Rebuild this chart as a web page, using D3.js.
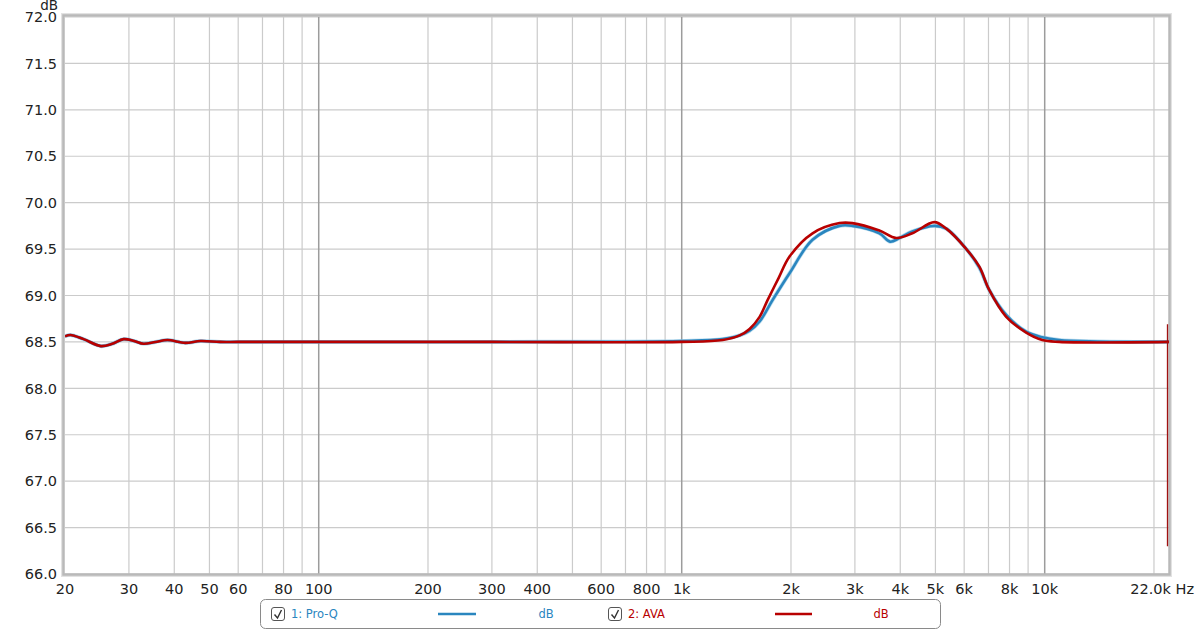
<!DOCTYPE html>
<html><head><meta charset="utf-8">
<script src="https://cdn.jsdelivr.net/npm/d3@7"></script>
<style>
html,body{margin:0;padding:0;background:#fff;}
svg{display:block;font-family:"DejaVu Sans",sans-serif;}
</style></head>
<body><svg id="c" width="1200" height="630"></svg>
<script>
// ---- data ----
const proqFreq = [20,20.7,22.5,25.1,27,29,31,32.9,35.5,38.3,42.9,47.2,53.5,60,100,300,1000,1297,1444,1538,1639,1779,1982,2293,2721,2953,3505,3750,3982,4320,4966,5357,6083,6607,7033,7834,8892,9843,10960,14000,22000];
const proqDb   = [68.56,68.575,68.53,68.455,68.48,68.53,68.51,68.48,68.50,68.52,68.49,68.51,68.50,68.50,68.50,68.50,68.51,68.53,68.57,68.62,68.72,68.95,69.24,69.60,69.75,69.75,69.67,69.58,69.62,69.69,69.75,69.72,69.50,69.30,69.06,68.79,68.61,68.55,68.52,68.505,68.50];
const avaFreq  = [20,20.7,22.5,25.1,27,29,31,32.9,35.5,38.3,42.9,47.2,53.5,60,100,300,1000,1297,1444,1538,1639,1724,1850,1982,2293,2721,2953,3505,3900,4320,4966,5357,6083,6607,7033,7834,8892,9843,10960,22000];
const avaDb    = [68.56,68.575,68.53,68.455,68.48,68.53,68.51,68.48,68.50,68.52,68.49,68.51,68.50,68.50,68.50,68.50,68.50,68.52,68.57,68.64,68.77,68.95,69.19,69.42,69.67,69.78,69.78,69.70,69.62,69.67,69.79,69.72,69.50,69.31,69.06,68.77,68.60,68.52,68.50,68.50];
const avaEndFreq = [22000,22000,22000];
const avaEndDb   = [68.50,68.69,66.30];
const xTickVals   = [20,30,40,50,60,80,100,200,300,400,600,800,1000,2000,3000,4000,5000,6000,8000,10000];
const xTickLabels = ["20","30","40","50","60","80","100","200","300","400","600","800","1k","2k","3k","4k","5k","6k","8k","10k"];
const xGrid = [30,40,50,60,70,80,90,200,300,400,500,600,700,800,900,2000,3000,4000,5000,6000,7000,8000,9000,20000];
const xDecades = [100,1000,10000];
const yTicks = [66.0,66.5,67.0,67.5,68.0,68.5,69.0,69.5,70.0,70.5,71.0,71.5,72.0];
const legendItems = [{name:"1: Pro-Q",unit:"dB",color:"#2a86bf"},{name:"2: AVA",unit:"dB",color:"#b80000"}];

// ---- layout ----
const svg = d3.select("#c");
const L=65, R=1169, T=17, B=574;
const x = d3.scaleLog().domain([20,22000]).range([L,R]);
const y = d3.scaleLinear().domain([66,72]).range([B,T]);

// grid
const g = svg.append("g");
g.selectAll(".hg").data(yTicks).join("line")
  .attr("x1",L).attr("x2",R).attr("y1",d=>y(d)).attr("y2",d=>y(d))
  .attr("stroke","#cbcbcb").attr("stroke-width",1.2);
g.selectAll(".vg").data(xGrid).join("line")
  .attr("x1",d=>x(d)).attr("x2",d=>x(d)).attr("y1",T).attr("y2",B)
  .attr("stroke","#cbcbcb").attr("stroke-width",1.2);
g.selectAll(".vd").data(xDecades).join("line")
  .attr("x1",d=>x(d)).attr("x2",d=>x(d)).attr("y1",T).attr("y2",B)
  .attr("stroke","#9c9c9c").attr("stroke-width",1.5);

// frame
svg.append("rect").attr("x",L-3).attr("y",T-3).attr("width",R-L+5).attr("height",B-T+5)
  .attr("fill","none").attr("stroke","#e2e2e2").attr("stroke-width",2);
svg.append("rect").attr("x",L-1.5).attr("y",T-1.5).attr("width",R-L+2).attr("height",B-T+2)
  .attr("fill","none").attr("stroke","#b9b9b9").attr("stroke-width",2.5);

// clip
svg.append("clipPath").attr("id","clip").append("rect")
  .attr("x",L).attr("y",T-2).attr("width",R-L+1).attr("height",B-T+4);

const line = d3.line().x(d=>x(d[0])).y(d=>y(d[1])).curve(d3.curveCatmullRom.alpha(0.5));
const lines = svg.append("g").attr("clip-path","url(#clip)");
const proq = proqFreq.map((f,i)=>[f,proqDb[i]]);
const ava = avaFreq.map((f,i)=>[f,avaDb[i]]);
lines.append("path").attr("d",line(proq)).attr("fill","none")
  .attr("stroke","#8cc4e4").attr("stroke-width",4).attr("stroke-opacity",0.6);
lines.append("path").attr("d",line(proq)).attr("fill","none")
  .attr("stroke",legendItems[0].color).attr("stroke-width",2.6);
lines.append("path").attr("d",line(ava)).attr("fill","none")
  .attr("stroke",legendItems[1].color).attr("stroke-width",2.6);
const endLine = d3.line().x(d=>x(d[0])-1.5).y(d=>y(d[1]));
svg.append("path").attr("d",endLine(avaEndFreq.map((f,i)=>[f,avaEndDb[i]])))
  .attr("fill","none").attr("stroke","#a01010").attr("stroke-width",1.3);

// y labels
svg.selectAll(".yl").data(yTicks).join("text")
  .attr("x",57).attr("y",d=>y(d)).attr("dy","0.36em").attr("text-anchor","end")
  .attr("font-size","14.5px").attr("fill","#222").text(d=>d.toFixed(1));
svg.append("text").attr("x",58).attr("y",10).attr("text-anchor","end")
  .attr("font-size","13.5px").attr("fill","#222").text("dB");

// x labels
svg.selectAll(".xl").data(xTickVals).join("text")
  .attr("x",d=>x(d)).attr("y",589).attr("dy","0.36em").attr("text-anchor","middle")
  .attr("font-size","14.5px").attr("fill","#222").text((d,i)=>xTickLabels[i]);
svg.append("text").attr("x",1194).attr("y",589).attr("dy","0.36em").attr("text-anchor","end")
  .attr("font-size","14.5px").attr("fill","#222").text("22.0k Hz");

// legend
const lg = svg.append("g");
lg.append("rect").attr("x",260.5).attr("y",599.5).attr("width",680).attr("height",29)
  .attr("rx",5).attr("fill","#fff").attr("stroke","#8a8a8a").attr("stroke-width",1);
const lx = [{cb:271,txt:291,l1:438,l2:476,u:546},{cb:608,txt:628,l1:775,l2:812,u:881}];
legendItems.forEach((it,i)=>{
  const p = lx[i];
  lg.append("rect").attr("x",p.cb+0.5).attr("y",607.5).attr("width",13).attr("height",13)
    .attr("rx",2.5).attr("fill","#fff").attr("stroke","#555").attr("stroke-width",1);
  lg.append("path").attr("d",`M${p.cb+3.5},${614.5} L${p.cb+6.5},${618} L${p.cb+10.5},${610}`)
    .attr("fill","none").attr("stroke","#333").attr("stroke-width",1.4);
  lg.append("text").attr("x",p.txt).attr("y",614).attr("dy","0.36em")
    .attr("font-size","11.5px").attr("fill",it.color).text(it.name);
  lg.append("line").attr("x1",p.l1).attr("x2",p.l2).attr("y1",614).attr("y2",614)
    .attr("stroke",it.color).attr("stroke-width",2.4);
  lg.append("text").attr("x",p.u).attr("y",614).attr("dy","0.36em").attr("text-anchor","middle")
    .attr("font-size","11.5px").attr("fill",it.color).text(it.unit);
});
</script></body></html>
